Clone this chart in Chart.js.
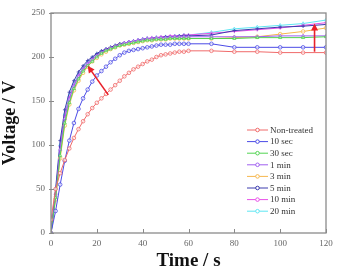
<!DOCTYPE html>
<html>
<head>
<meta charset="utf-8">
<script src="https://cdn.jsdelivr.net/npm/chart.js@4.4.1/dist/chart.umd.min.js"></script>
<style>
html, body { margin: 0; padding: 0; background: #fff; }
#wrap { width: 338px; height: 272px; }
</style>
</head>
<body>
<div id="wrap"><canvas id="myChart" width="338" height="272"></canvas></div>
<script>
var time = [0,2,4,6,8,10,12,14,16,18,20,22,24,26,28,30,32,34,36,38,40,42,44,46,48,50,52,54,56,58,60,70,80,90,100,110,120];

var nonTreated = [15,50,68,83,96,108,118,127,135,142,148,153,158,163,168,173,178,182,186,189,192,195,197,200,202,203,204,205,206,206,207,207,206,206,205,205,205];
var sec10 = [0,25,55,82,105,125,141,153,163,172,179,184,189,194,198,202,205,207,208,209,210,211,212,213,214,214,214,215,215,215,215,215,211,211,211,211,211];
var sec30 = [0,40,88,125,148,164,175,184,190,195,200,204,207,209,211,213,214,215,216,217,218,219,219,220,220,220,221,221,221,221,221,221,221,222,222,222,223];
var min1 = [0,42,95,130,152,167,178,186,192,197,201,205,208,210,212,214,216,217,218,219,220,221,221,222,222,222,223,223,223,223,223,223,223,223,224,224,224];
var min3 = [0,38,85,122,146,162,173,182,189,195,199,203,206,209,211,213,214,215,216,217,218,219,219,220,220,220,221,221,221,221,221,221,222,223,226,229,233];
var min5 = [0,50,105,140,160,173,183,190,196,200,204,207,209,211,213,215,216,217,218,219,220,221,221,222,222,223,223,223,224,224,224,225,230,232,234,235,237];
var min10 = [0,44,98,133,154,168,179,187,193,198,202,206,209,211,213,215,216,217,218,219,220,221,222,222,223,223,224,224,224,225,225,227,229,231,233,236,239];
var min20 = [0,45,100,135,156,170,180,188,194,199,203,206,209,211,213,215,216,217,218,219,220,221,221,222,222,223,223,224,224,225,225,228,232,234,236,238,242];

var names = ['Non-treated', '10 sec', '30 sec', '1 min', '3 min', '5 min', '10 min', '20 min'];
var colors = ['#f06a6a', '#4b4be6', '#52d452', '#a060f0', '#f6b74e', '#3c3cae', '#e850e8', '#5ee6f2'];
var markers = ['circle', 'circle', 'triangle', 'triangle', 'circle', 'cross', 'cross', 'triangle'];
var allSeries = [nonTreated, sec10, sec30, min1, min3, min5, min10, min20];

var xTicks = [0, 20, 40, 60, 80, 100, 120];
var yTicks = [0, 50, 100, 150, 200, 250];

// arrows: [x1, y1, x2, y2] in data units (tail -> head)
var arrows = [[25, 157, 16, 190], [115, 206, 115, 238]];

var serif = "'Liberation Serif', 'DejaVu Serif', serif";

function pts(arr) {
    return arr.map(function (v, i) { return { x: time[i], y: v }; });
}

var datasets = allSeries.map(function (s, i) {
    return {
        label: names[i],
        data: pts(s),
        borderColor: colors[i],
        backgroundColor: 'rgba(255,255,255,0.7)',
        borderWidth: 1,
        pointStyle: markers[i],
        pointRadius: 1.8,
        pointBorderWidth: 0.8,
        pointBorderColor: colors[i],
        pointBackgroundColor: 'rgba(255,255,255,0.6)',
        tension: 0,
        showLine: true
    };
});

function drawArrow(ctx, x1, y1, x2, y2) {
    var ang = Math.atan2(y2 - y1, x2 - x1);
    var hl = 7, hw = 3.5;
    ctx.strokeStyle = '#e8202a';
    ctx.fillStyle = '#e8202a';
    ctx.lineWidth = 1.6;
    ctx.beginPath();
    ctx.moveTo(x1, y1);
    ctx.lineTo(x2 - Math.cos(ang) * hl * 0.8, y2 - Math.sin(ang) * hl * 0.8);
    ctx.stroke();
    ctx.beginPath();
    ctx.moveTo(x2, y2);
    ctx.lineTo(x2 - Math.cos(ang) * hl - Math.sin(ang) * hw, y2 - Math.sin(ang) * hl + Math.cos(ang) * hw);
    ctx.lineTo(x2 - Math.cos(ang) * hl + Math.sin(ang) * hw, y2 - Math.sin(ang) * hl - Math.cos(ang) * hw);
    ctx.closePath();
    ctx.fill();
}

var framePlugin = {
    id: 'frame',
    afterDatasetsDraw: function (chart) {
        var ctx = chart.ctx;
        var a = chart.chartArea;
        var xs = chart.scales.x, ys = chart.scales.y;
        ctx.save();
        // box
        ctx.strokeStyle = '#8a8a8a';
        ctx.lineWidth = 1.3;
        ctx.strokeRect(a.left, a.top, a.right - a.left, a.bottom - a.top);
        // inward ticks
        ctx.lineWidth = 1;
        ctx.beginPath();
        xTicks.forEach(function (t) {
            var px = Math.round(xs.getPixelForValue(t)) + 0.5;
            ctx.moveTo(px, a.bottom);
            ctx.lineTo(px, a.bottom - 4);
        });
        yTicks.forEach(function (t) {
            var py = Math.round(ys.getPixelForValue(t)) + 0.5;
            ctx.moveTo(a.left - 2, py);
            ctx.lineTo(a.left + 3, py);
        });
        ctx.stroke();
        // arrows
        arrows.forEach(function (ar) {
            drawArrow(ctx, xs.getPixelForValue(ar[0]), ys.getPixelForValue(ar[1]),
                xs.getPixelForValue(ar[2]), ys.getPixelForValue(ar[3]));
        });
        // legend
        var lx = 247, ly = 130, step = 11.6;
        ctx.font = '9px ' + serif;
        ctx.textBaseline = 'middle';
        chart.data.datasets.forEach(function (ds, i) {
            var y = ly + i * step;
            ctx.strokeStyle = ds.borderColor;
            ctx.lineWidth = 1;
            ctx.beginPath();
            ctx.moveTo(lx, y);
            ctx.lineTo(lx + 21, y);
            ctx.stroke();
            ctx.beginPath();
            ctx.arc(lx + 10.5, y, 1.8, 0, Math.PI * 2);
            ctx.fillStyle = '#fff';
            ctx.fill();
            ctx.stroke();
            ctx.fillStyle = '#333';
            ctx.fillText(ds.label, lx + 23, y + 0.5);
        });
        ctx.restore();
    }
};

var options = {
    type: 'scatter',
    data: { datasets: datasets },
    options: {
        responsive: false,
        animation: false,
        layout: { padding: { top: 13, right: 12, left: 0, bottom: 0 } },
        plugins: {
            legend: { display: false },
            tooltip: { enabled: false }
        },
        scales: {
            x: {
                type: 'linear',
                min: 0,
                max: 120,
                grid: { display: false, drawTicks: false },
                border: { display: false },
                afterBuildTicks: function (scale) {
                    scale.ticks = xTicks.map(function (v) { return { value: v }; });
                },
                afterFit: function (scale) { scale.height = 39; },
                ticks: {
                    padding: 5,
                    color: '#666',
                    font: { family: serif, size: 9 }
                },
                title: {
                    display: true,
                    text: 'Time / s',
                    color: '#111',
                    padding: { top: 0, bottom: 0 },
                    font: { family: serif, size: 19, weight: 'bold' }
                }
            },
            y: {
                type: 'linear',
                min: 0,
                max: 250,
                grid: { display: false, drawTicks: false },
                border: { display: false },
                afterBuildTicks: function (scale) {
                    scale.ticks = yTicks.map(function (v) { return { value: v }; });
                },
                afterFit: function (scale) { scale.width = 51; },
                ticks: {
                    padding: 6,
                    color: '#666',
                    font: { family: serif, size: 9 }
                },
                title: {
                    display: true,
                    text: 'Voltage / V',
                    color: '#111',
                    padding: { top: 0, bottom: 0 },
                    font: { family: serif, size: 18, weight: 'bold' }
                }
            }
        }
    },
    plugins: [framePlugin]
};

var ctx = document.getElementById('myChart');
var chart = new Chart(ctx, options);
</script>
</body>
</html>
